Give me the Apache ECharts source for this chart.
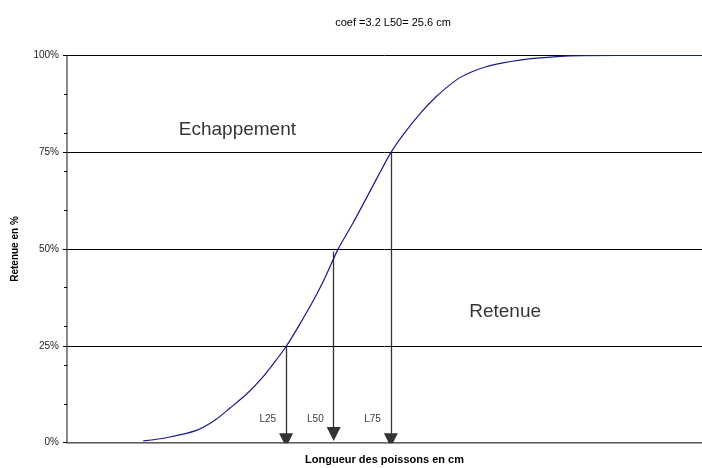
<!DOCTYPE html>
<html>
<head>
<meta charset="utf-8">
<script src="https://cdn.jsdelivr.net/npm/echarts@6/dist/echarts.min.js"></script>
<style>
  html, body { margin: 0; padding: 0; background: #fff; }
  #courbe { width: 702px; height: 468px; }
</style>
</head>
<body>
<div id="courbe"></div>
<script>
// courbe de sélectivité
var longueurs = [7.2, 9.5, 12.3, 14, 15.4, 17, 18.5, 19.6, 20.7, 22, 23.3, 24.5, 25.6, 27, 28.2, 29.4, 30.6, 31.7, 33.4, 34.9, 36.8, 38.1, 39.6, 41.2, 42.8, 44.4, 47.5, 52, 56, 60];
var retenues  = [0.4, 1.3, 3.2, 5.8, 8.9, 12.6, 16.9, 20.7, 24.8, 30.6, 36.8, 43.3, 49.9, 56.6, 62.7, 68.9, 74.9, 79.3, 85.1, 89.4, 93.7, 95.6, 97.1, 98.1, 98.8, 99.3, 99.9, 100, 100, 100];

// flèches L25 / L50 / L75
var flecheNoms = ['L25', 'L50', 'L75'];
var flecheX    = [20.7, 25.2, 30.6];
var flecheHaut = [25, 49.3, 75];
var flecheBas  = [0.6, 2.2, 0.6];
var etiquetteY = 6.1;

// zones
var zoneNoms = ['Echappement', 'Retenue'];
var zoneX    = [16.1, 41.4];
var zoneY    = [80.7, 33.7];

var police = 'Liberation Sans, Arial, sans-serif';

var chart = echarts.init(document.getElementById('courbe'));

var courbe = [];
for (var i = 0; i < longueurs.length; i++) {
	courbe.push([longueurs[i], retenues[i]]);
}
var fleches = [];
var etiquettes = [];
for (var j = 0; j < flecheNoms.length; j++) {
	fleches.push({ coords: [[flecheX[j], flecheHaut[j]], [flecheX[j], flecheBas[j]]] });
	etiquettes.push({ name: flecheNoms[j], value: [flecheX[j], etiquetteY] });
}
var zones = [];
for (var k = 0; k < zoneNoms.length; k++) {
	zones.push({ name: zoneNoms[k], value: [zoneX[k], zoneY[k]] });
}

var option = {
	animation: false,
	textStyle: { fontFamily: police },
	title: {
		text: 'coef =3.2 L50= 25.6 cm',
		left: 388,
		textAlign: 'center',
		top: 12,
		textStyle: { fontSize: 11, fontWeight: 'normal', color: '#000', fontFamily: police }
	},
	grid: { left: 67, right: 0, top: 55.5, bottom: 25.5, outerBoundsMode: 'none', containLabel: false },
	xAxis: {
		type: 'value',
		min: 0,
		max: 60,
		name: 'Longueur des poissons en cm',
		nameLocation: 'middle',
		nameGap: 12,
		nameTextStyle: { fontSize: 11, fontWeight: 'bold', color: '#000', fontFamily: police },
		axisLine: { lineStyle: { color: '#808080', width: 1.5 } },
		axisTick: { show: false },
		axisLabel: { show: false },
		splitLine: { show: false }
	},
	yAxis: [{
		type: 'value',
		min: 0,
		max: 100,
		interval: 25,
		name: 'Retenue en %',
		nameLocation: 'middle',
		nameGap: 47,
		nameRotate: 90,
		nameTextStyle: { fontSize: 10, fontWeight: 'bold', color: '#000', fontFamily: police },
		axisLine: { show: true, lineStyle: { color: '#606060', width: 1.5 } },
		axisTick: { show: true, length: 4, lineStyle: { color: '#000' } },
		axisLabel: { formatter: '{value}%', fontSize: 10, color: '#222', margin: 8 },
		splitLine: { show: true, lineStyle: { color: '#000', width: 1 } }
	}, {
		type: 'value',
		min: 0,
		max: 100,
		interval: 10,
		position: 'left',
		axisLine: { show: false },
		axisTick: { show: true, length: 3, lineStyle: { color: '#000' } },
		axisLabel: { show: false },
		splitLine: { show: false }
	}],
	series: [{
		name: 'Retenue',
		type: 'line',
		data: courbe,
		smooth: 0.25,
		showSymbol: false,
		lineStyle: { color: '#1a1a8c', width: 1.2 },
		z: 5
	}, {
		name: 'Fleches',
		type: 'lines',
		coordinateSystem: 'cartesian2d',
		data: fleches,
		symbol: ['none', 'triangle'],
		symbolSize: [14, 14],
		lineStyle: { color: '#333', width: 1.3, opacity: 1 },
		z: 4
	}, {
		name: 'Etiquettes',
		type: 'scatter',
		data: etiquettes,
		symbolSize: 0,
		label: {
			show: true,
			position: 'left',
			distance: 10,
			formatter: '{b}',
			fontSize: 10,
			color: '#000'
		}
	}, {
		name: 'Zones',
		type: 'scatter',
		data: zones,
		symbolSize: 0,
		label: {
			show: true,
			position: 'inside',
			formatter: '{b}',
			fontSize: 19,
			color: '#000'
		}
	}]
};

chart.setOption(option);
</script>
</body>
</html>
